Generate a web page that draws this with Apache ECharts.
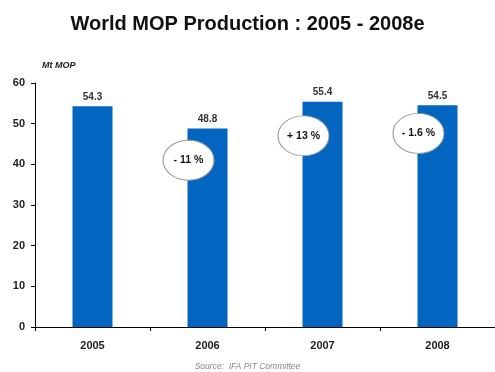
<!DOCTYPE html>
<html>
<head>
<meta charset="utf-8">
<script src="https://cdn.jsdelivr.net/npm/echarts@6/dist/echarts.min.js"></script>
<style>
  html, body { margin: 0; padding: 0; background: #fff; }
  #chart { width: 495px; height: 372px; }
</style>
</head>
<body>
<div id="chart"></div>
<script>
// Annual world MOP output, million tonnes
const years = ['2005', '2006', '2007', '2008'];
const production = [54.3, 48.8, 55.4, 54.5];
const yTicks = [0, 10, 20, 30, 40, 50, 60];

// Year-on-year change callouts (category, text, vertical anchor in Mt)
const changeYears = ['2006', '2007', '2008'];
const changeLabels = ['- 11 %', '+ 13 %', '- 1.6 %'];
const changeAnchor = [41, 47, 47.6];

const FONT = '"Liberation Sans", Arial, sans-serif';
const chart = echarts.init(document.getElementById('chart'));

chart.setOption({
  animation: false,
  backgroundColor: '#fff',
  title: [
    {
      text: 'World MOP Production : 2005 - 2008e',
      left: 'center',
      top: 9,
      textStyle: { fontFamily: FONT, fontSize: 20, fontWeight: 'bold', color: '#111' }
    },
    {
      text: 'Mt MOP',
      left: 37,
      top: 56,
      textStyle: { fontFamily: FONT, fontSize: 9, fontWeight: 'bold', fontStyle: 'italic', color: '#222' }
    },
    {
      text: 'Source:  IFA PIT Committee',
      left: 'center',
      top: 357,
      textStyle: { fontFamily: FONT, fontSize: 8.5, fontStyle: 'italic', fontWeight: 'normal', color: '#888' }
    }
  ],
  grid: { left: 35, right: 0, top: 83, bottom: 45, containLabel: false },
  xAxis: {
    type: 'category',
    data: years,
    axisLine: { lineStyle: { color: '#000', width: 1 } },
    axisTick: { show: true, length: 4, lineStyle: { color: '#000' } },
    axisLabel: { fontFamily: FONT, fontSize: 11, fontWeight: 'bold', color: '#222', margin: 13 }
  },
  yAxis: {
    type: 'value',
    min: yTicks[0],
    max: yTicks[yTicks.length - 1],
    interval: yTicks[1] - yTicks[0],
    axisLine: { show: true, lineStyle: { color: '#000', width: 1 } },
    axisTick: { show: true, length: 4, lineStyle: { color: '#000' } },
    splitLine: { show: false },
    axisLabel: { fontFamily: FONT, fontSize: 11, fontWeight: 'bold', color: '#222', margin: 10 }
  },
  series: [
    {
      type: 'bar',
      data: production,
      barWidth: 40,
      itemStyle: { color: '#0266c0' },
      label: {
        show: true,
        position: 'top',
        distance: 4,
        fontFamily: FONT,
        fontSize: 10,
        fontWeight: 'bold',
        color: '#333'
      },
      z: 2
    },
    {
      type: 'scatter',
      data: changeYears.map((y, i) => ({ value: [y, changeAnchor[i]], name: changeLabels[i] })),
      symbol: 'circle',
      symbolSize: [51, 40],
      symbolOffset: [-19, 0],
      itemStyle: { color: '#fff', opacity: 1, borderColor: '#9a9a9a', borderWidth: 1 },
      label: {
        show: true,
        position: 'inside',
        formatter: p => p.name,
        fontFamily: FONT,
        fontSize: 10.5,
        fontWeight: 'bold',
        color: '#111'
      },
      emphasis: { disabled: true },
      z: 5
    }
  ]
});
</script>
</body>
</html>
